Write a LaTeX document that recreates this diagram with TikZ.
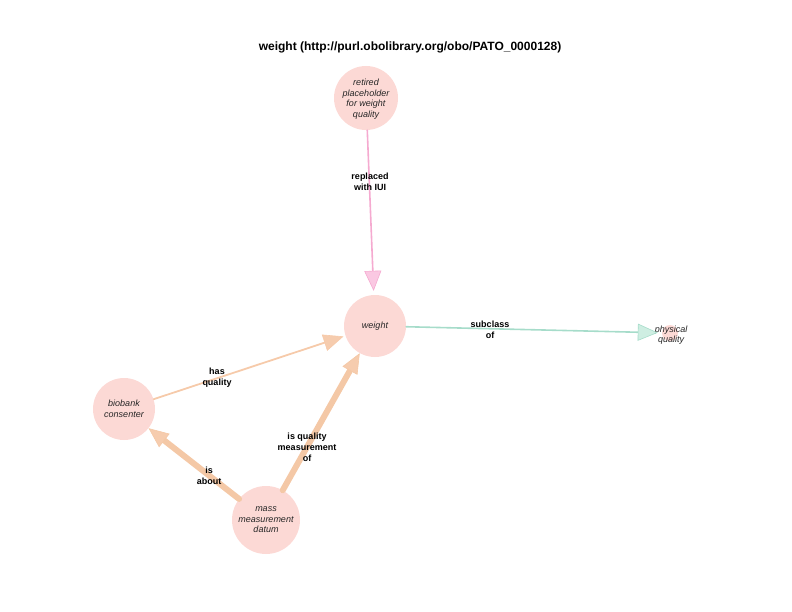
\documentclass[tikz,border=0pt]{standalone}
\usepackage{fontspec}
\setmainfont{Liberation Sans}
\usetikzlibrary{arrows.meta}
\definecolor{nodefill}{RGB}{252,217,213}
\definecolor{pinkc}{RGB}{245,170,208}
\definecolor{pinkf}{RGB}{250,200,226}
\definecolor{greenc}{RGB}{166,220,202}
\definecolor{greenf}{RGB}{206,238,226}
\definecolor{orthin}{RGB}{246,202,170}
\definecolor{orthick}{RGB}{244,200,166}
\definecolor{orf}{RGB}{246,204,174}
\tikzset{
  ent/.style={circle, fill=nodefill, draw=none, inner sep=0pt},
  enttext/.style={font=\itshape\fontsize{9}{10.5}\selectfont, align=center, text=black!85},
  elabel/.style={font=\bfseries\fontsize{9}{11}\selectfont, align=center, text=black},
  tipA/.style={-{Triangle[length=20pt,width=17pt,line width=0.6pt,fill=#1]}},
  pinkedge/.style={draw=pinkc, line width=1.6pt, line cap=round, tipA=pinkf, shorten >=4pt},
  greenedge/.style={draw=greenc, line width=1.6pt, line cap=round, tipA=greenf, shorten >=4pt},
  thinor/.style={draw=orthin, line width=1.8pt, line cap=round, tipA=orf, shorten >=2pt},
  thickor/.style={draw=orthick, line width=6pt, line cap=round, tipA=orf},
}
\begin{document}
\begin{tikzpicture}[x=1pt,y=-1pt]
\useasboundingbox (0,0) rectangle (792,612);
\node[font=\bfseries\fontsize{12}{14}\selectfont] (title) at (410,47) {weight (http://purl.obolibrary.org/obo/PATO\_0000128)};

\node[ent, minimum size=64pt] (ret) at (366,98) {};
\node[enttext] (rett) at (366,99) {retired\\placeholder\\for weight\\quality};
\node[ent, minimum size=62pt] (wt) at (375,326) {};
\node[enttext] (wtt) at (375,326) {weight};
\node[ent, minimum size=16pt] (pq) at (670,333) {};
\node[enttext] (pqt) at (671,335) {physical\\quality};
\node[ent, minimum size=62pt] (bc) at (124,409) {};
\node[enttext] (bct) at (124,409) {biobank\\consenter};
\node[ent, minimum size=68pt] (md) at (266,520) {};
\node[enttext] (mdt) at (266,520) {mass\\measurement\\datum};

\draw[pinkedge] (ret) -- (wt);
\draw[greenedge] (wt) -- (pq);
\draw[thinor] (bc) -- (wt);
\draw[thickor] (md) -- (bc);
\draw[thickor] (md) -- (wt);

\node[elabel] (l1) at (370,182) {replaced\\with IUI};
\node[elabel] (l2) at (490,330) {subclass\\of};
\node[elabel] (l3) at (217,378) {has\\quality};
\node[elabel] (l4) at (209,476) {is\\about};
\node[elabel] (l5) at (307,447) {is quality\\measurement\\of};
\end{tikzpicture}
\end{document}
